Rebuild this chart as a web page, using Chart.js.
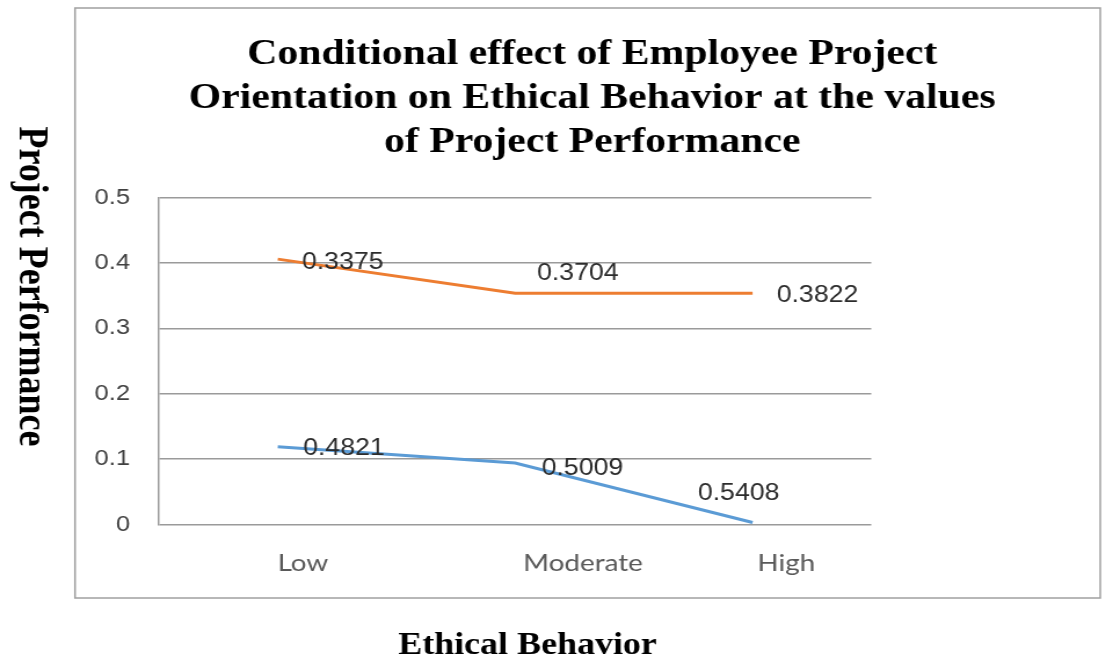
<!DOCTYPE html>
<html>
<head>
<meta charset="utf-8">
<title>Conditional effect chart</title>
<script src="https://cdn.jsdelivr.net/npm/chart.js@4.4.1/dist/chart.umd.min.js"></script>
<style>
  html, body { margin: 0; padding: 0; background: #fff; overflow: hidden; }
  /* the original picture is stretched sideways, so the chart is too */
  #wrap { width: 960px; height: 660px; transform: scaleX(1.159375); transform-origin: 0 0; }
</style>
</head>
<body>
<div id="wrap"><canvas id="chart"></canvas></div>
<script>
(function () {
  "use strict";

  var CATEGORIES = ["Low", "Moderate", "High"];
  var ORANGE_VALUES = [0.406, 0.354, 0.354];
  var BLUE_VALUES = [0.119, 0.094, 0.003];
  var ORANGE_LABELS = ["0.3375", "0.3704", "0.3822"];
  var BLUE_LABELS = ["0.4821", "0.5009", "0.5408"];
  var Y_TICKS = [0, 0.1, 0.2, 0.3, 0.4, 0.5];
  // where the category names sit along the axis (they are not under the points)
  var CATEGORY_TICK_AT = [0.106, 1.286, 2.142];

  var TITLE_LINES = [
    "Conditional effect of Employee Project",
    "Orientation on Ethical Behavior at the values",
    "of Project Performance",
  ];
  var Y_TITLE = "Project Performance";
  var X_TITLE = "Ethical Behavior";

  var SERIF = "'Liberation Serif', 'Times New Roman', serif";
  var SANS = "'Liberation Sans', Arial, sans-serif";
  var GRID = "#9a9a9a";

  var decor = {
    id: "decor",
    beforeDraw: function (chart) {
      var ctx = chart.ctx;
      ctx.save();
      ctx.strokeStyle = "#a0a0a0";
      ctx.lineWidth = 1.5;
      ctx.strokeRect(64.7, 8, 884.3, 590);
      ctx.restore();
    },
    afterDatasetsDraw: function (chart) {
      var ctx = chart.ctx;
      ctx.save();
      ctx.font = "23px " + SANS;
      ctx.fillStyle = "#2b2b2b";
      ctx.textAlign = "center";
      ctx.textBaseline = "middle";
      chart.data.datasets.forEach(function (ds, di) {
        var meta = chart.getDatasetMeta(di);
        meta.data.forEach(function (pt, i) {
          var off = ds.labelOffsets[i];
          ctx.fillText(ds.valueLabels[i], pt.x + off[0], pt.y + off[1]);
        });
      });
      ctx.restore();
    },
    afterDraw: function (chart) {
      var ctx = chart.ctx;
      ctx.save();
      ctx.fillStyle = "#000";
      ctx.textAlign = "center";
      ctx.textBaseline = "alphabetic";

      ctx.font = "bold 36px " + SERIF;
      var baselines = [64, 108, 152];
      for (var i = 0; i < TITLE_LINES.length; i++) {
        ctx.fillText(TITLE_LINES[i], 510.8, baselines[i]);
      }

      ctx.font = "bold 31px " + SERIF;
      ctx.fillText(X_TITLE, 455, 654);

      ctx.font = "bold 36px " + SERIF;
      ctx.translate(16.5, 286.5);
      ctx.rotate(Math.PI / 2);
      ctx.fillText(Y_TITLE, 0, 0);
      ctx.restore();
    },
  };

  new Chart(document.getElementById("chart"), {
    type: "line",
    data: {
      labels: CATEGORIES,
      datasets: [
        {
          label: "Orange",
          data: ORANGE_VALUES,
          valueLabels: ORANGE_LABELS,
          labelOffsets: [[56, 3.5], [54, -19], [56, 2.5]],
          borderColor: "#ED7D31",
          borderWidth: 3,
          pointRadius: 0,
          tension: 0,
          fill: false,
        },
        {
          label: "Blue",
          data: BLUE_VALUES,
          valueLabels: BLUE_LABELS,
          labelOffsets: [[57, 2], [58, 6], [-12, -29]],
          borderColor: "#5B9BD5",
          borderWidth: 3,
          pointRadius: 0,
          tension: 0,
          fill: false,
        },
      ],
    },
    options: {
      responsive: true,
      maintainAspectRatio: false,
      animation: false,
      events: [],
      layout: { padding: { left: 60, right: 208.5, top: 197.7, bottom: 75.5 } },
      plugins: {
        legend: { display: false },
        title: { display: false },
        tooltip: { enabled: false },
      },
      scales: {
        x: {
          type: "category",
          offset: true,
          display: false,
        },
        xNames: {
          type: "linear",
          position: "bottom",
          min: -0.5,
          max: 2.5,
          afterBuildTicks: function (scale) {
            scale.ticks = CATEGORY_TICK_AT.map(function (v) {
              return { value: v };
            });
          },
          afterFit: function (scale) {
            scale.height = 60;
          },
          ticks: {
            autoSkip: false,
            maxRotation: 0,
            padding: 24,
            color: "#595959",
            font: { family: "Lato, 'Open Sans', sans-serif", size: 24 },
            callback: function (value, index) {
              return CATEGORIES[index];
            },
          },
          grid: { display: false, drawTicks: false },
          border: { display: false },
        },
        y: {
          min: 0,
          max: 0.5,
          afterBuildTicks: function (scale) {
            scale.ticks = Y_TICKS.map(function (v) {
              return { value: v };
            });
          },
          afterFit: function (scale) {
            scale.width = 77.2;
          },
          ticks: {
            padding: 25,
            color: "#404040",
            font: { family: SANS, size: 22 },
            callback: function (value) {
              return String(value);
            },
          },
          grid: { color: GRID, lineWidth: 1.5, drawTicks: false },
          border: { display: true, color: GRID, width: 1.5 },
        },
      },
    },
    plugins: [decor],
  });
})();
</script>
</body>
</html>
